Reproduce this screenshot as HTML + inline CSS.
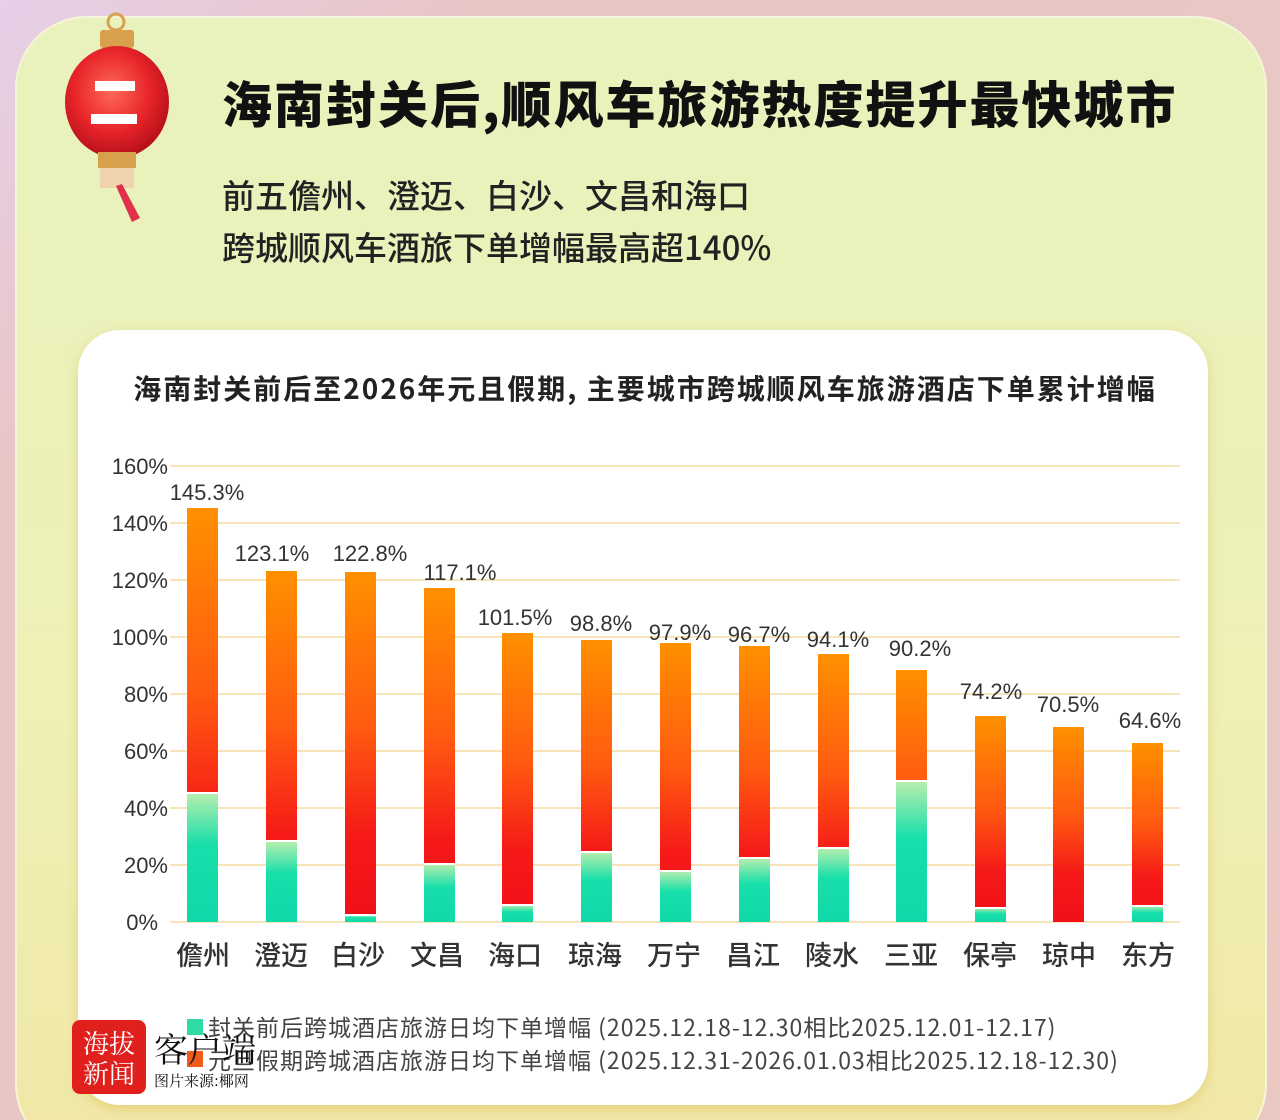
<!DOCTYPE html>
<html><head><meta charset="utf-8"><style>
html,body{margin:0;padding:0;width:1280px;height:1120px;overflow:hidden;background:#e9c8c8;}
body{position:relative;font-family:"Liberation Sans","Noto Sans CJK SC",sans-serif;}
.bg{position:absolute;left:0;top:0;width:1280px;height:1120px;background:linear-gradient(135deg,#e6cfe8 0%,#e8c6c6 20%,#e9c8c4 100%);}
.card{position:absolute;left:15px;top:16px;width:1252px;height:1140px;border-radius:72px;background:linear-gradient(180deg,#e9f2bd 0%,#eef0b6 60%,#f1e7a6 100%);box-shadow:0 0 0 2px #f6f4d8 inset;}
.inner{position:absolute;left:78px;top:330px;width:1130px;height:775px;border-radius:42px;background:#fff;box-shadow:0 4px 10px rgba(220,190,80,.5);}
.t1{position:absolute;left:222px;top:66px;font-size:50px;font-weight:900;color:#111;letter-spacing:2px;white-space:nowrap;font-family:"Noto Sans CJK SC",sans-serif;}
.t2{position:absolute;left:222px;top:168px;font-size:33px;font-weight:500;color:#222;line-height:52px;white-space:nowrap;font-family:"Noto Sans CJK SC",sans-serif;}
</style></head><body>
<div class="bg"></div>
<div class="card"></div>
<svg style="position:absolute;left:60px;top:10px" width="150" height="220">
 <defs><radialGradient id="lg" cx="45%" cy="40%" r="60%"><stop offset="0" stop-color="#ff6a5a"/><stop offset="0.6" stop-color="#e8252a"/><stop offset="1" stop-color="#b8101a"/></radialGradient></defs>
 <circle cx="56" cy="12" r="8" fill="none" stroke="#d9a050" stroke-width="3"/>
 <rect x="40" y="20" width="34" height="18" rx="3" fill="#d8a04a"/>
 <ellipse cx="57" cy="92" rx="52" ry="56" fill="url(#lg)"/>
 <rect x="35" y="71" width="40" height="10" fill="#fff"/>
 <rect x="31" y="104" width="46" height="10" fill="#fff"/>
 <rect x="38" y="142" width="38" height="16" fill="#d8a04a"/>
 <rect x="40" y="158" width="34" height="20" fill="#f2d3b0"/>
 <path d="M56 176 L72 212 L80 208 L62 174Z" fill="#e0304a"/>
</svg>
<div class="t1">海南封关后,顺风车旅游热度提升最快城市</div>
<div class="t2">前五儋州、澄迈、白沙、文昌和海口<br>跨城顺风车酒旅下单增幅最高超140%</div>
<div class="inner"></div>
<svg style="position:absolute;left:0;top:0" width="1280" height="1120" font-family="Liberation Sans, Noto Sans CJK SC, sans-serif">
 <defs>
  <linearGradient id="og" x1="0" y1="0" x2="0" y2="1"><stop offset="0" stop-color="#ff9000"/><stop offset="0.45" stop-color="#ff5a10"/><stop offset="0.75" stop-color="#f51a18"/><stop offset="1" stop-color="#f01018"/></linearGradient>
  <linearGradient id="gg" x1="0" y1="0" x2="0" y2="1"><stop offset="0" stop-color="#b8eeae"/><stop offset="0.4" stop-color="#18dfaa"/><stop offset="1" stop-color="#10d8a8"/></linearGradient>
 </defs>
 <text x="645" y="399" text-anchor="middle" font-size="28" font-weight="bold" fill="#222" letter-spacing="2" font-family="Noto Sans CJK SC, sans-serif">海南封关前后至2026年元且假期, 主要城市跨城顺风车旅游酒店下单累计增幅</text>
 <g stroke="#f7e4b8" stroke-width="2">
  <line x1="170" x2="1180" y1="922" y2="922"/><line x1="170" x2="1180" y1="865" y2="865"/><line x1="170" x2="1180" y1="808" y2="808"/><line x1="170" x2="1180" y1="751" y2="751"/><line x1="170" x2="1180" y1="694" y2="694"/><line x1="170" x2="1180" y1="637" y2="637"/><line x1="170" x2="1180" y1="580" y2="580"/><line x1="170" x2="1180" y1="523" y2="523"/><line x1="170" x2="1180" y1="466" y2="466"/>
 </g>
 <g font-size="22" fill="#333" text-anchor="end">
  <text x="158" y="930">0%</text><text x="168" y="873">20%</text><text x="168" y="816">40%</text><text x="168" y="759">60%</text><text x="168" y="702">80%</text><text x="168" y="645">100%</text><text x="168" y="588">120%</text><text x="168" y="531">140%</text><text x="168" y="474">160%</text>
 </g>
</svg>
<svg style="position:absolute;left:0;top:0" width="1280" height="1120" font-family="Liberation Sans, Noto Sans CJK SC, sans-serif">
<g font-size="22" fill="#333" text-anchor="middle">
<rect x="187" y="508" width="31" height="414" fill="url(#og)"/><rect x="187" y="793" width="31" height="129" fill="url(#gg)"/><rect x="187" y="792" width="31" height="2" fill="#fff"/><text x="207" y="500">145.3%</text>
<rect x="266" y="571" width="31" height="351" fill="url(#og)"/><rect x="266" y="841" width="31" height="81" fill="url(#gg)"/><rect x="266" y="840" width="31" height="2" fill="#fff"/><text x="272" y="561">123.1%</text>
<rect x="345" y="572" width="31" height="350" fill="url(#og)"/><rect x="345" y="915" width="31" height="7" fill="url(#gg)"/><rect x="345" y="914" width="31" height="2" fill="#fff"/><text x="370" y="561">122.8%</text>
<rect x="424" y="588" width="31" height="334" fill="url(#og)"/><rect x="424" y="864" width="31" height="58" fill="url(#gg)"/><rect x="424" y="863" width="31" height="2" fill="#fff"/><text x="460" y="580">117.1%</text>
<rect x="502" y="633" width="31" height="289" fill="url(#og)"/><rect x="502" y="905" width="31" height="17" fill="url(#gg)"/><rect x="502" y="904" width="31" height="2" fill="#fff"/><text x="515" y="625">101.5%</text>
<rect x="581" y="640" width="31" height="282" fill="url(#og)"/><rect x="581" y="852" width="31" height="70" fill="url(#gg)"/><rect x="581" y="851" width="31" height="2" fill="#fff"/><text x="601" y="631">98.8%</text>
<rect x="660" y="643" width="31" height="279" fill="url(#og)"/><rect x="660" y="871" width="31" height="51" fill="url(#gg)"/><rect x="660" y="870" width="31" height="2" fill="#fff"/><text x="680" y="640">97.9%</text>
<rect x="739" y="646" width="31" height="276" fill="url(#og)"/><rect x="739" y="858" width="31" height="64" fill="url(#gg)"/><rect x="739" y="857" width="31" height="2" fill="#fff"/><text x="759" y="642">96.7%</text>
<rect x="818" y="654" width="31" height="268" fill="url(#og)"/><rect x="818" y="848" width="31" height="74" fill="url(#gg)"/><rect x="818" y="847" width="31" height="2" fill="#fff"/><text x="838" y="647">94.1%</text>
<rect x="896" y="670" width="31" height="252" fill="url(#og)"/><rect x="896" y="781" width="31" height="141" fill="url(#gg)"/><rect x="896" y="780" width="31" height="2" fill="#fff"/><text x="920" y="656">90.2%</text>
<rect x="975" y="716" width="31" height="206" fill="url(#og)"/><rect x="975" y="908" width="31" height="14" fill="url(#gg)"/><rect x="975" y="907" width="31" height="2" fill="#fff"/><text x="991" y="699">74.2%</text>
<rect x="1053" y="727" width="31" height="195" fill="url(#og)"/><text x="1068" y="712">70.5%</text>
<rect x="1132" y="743" width="31" height="179" fill="url(#og)"/><rect x="1132" y="906" width="31" height="16" fill="url(#gg)"/><rect x="1132" y="905" width="31" height="2" fill="#fff"/><text x="1150" y="728">64.6%</text>
</g>
<g font-size="27" fill="#333" text-anchor="middle" font-family="Noto Sans CJK SC, sans-serif" font-weight="500">
<text x="203" y="965">儋州</text><text x="281" y="965">澄迈</text><text x="358" y="965">白沙</text><text x="437" y="965">文昌</text><text x="515" y="965">海口</text><text x="595" y="965">琼海</text><text x="674" y="965">万宁</text><text x="753" y="965">昌江</text><text x="832" y="965">陵水</text><text x="911" y="965">三亚</text><text x="990" y="965">保亭</text><text x="1069" y="965">琼中</text><text x="1148" y="965">东方</text>
</g>
<rect x="187" y="1019" width="16" height="16" fill="#2fdca8"/>
<rect x="187" y="1051" width="16" height="16" fill="#f05a1a"/>
<g font-size="23" fill="#444" letter-spacing="1" font-family="Noto Sans CJK SC, sans-serif">
<text x="208" y="1036">封关前后跨城酒店旅游日均下单增幅 (2025.12.18-12.30相比2025.12.01-12.17)</text>
<text x="208" y="1069">元旦假期跨城酒店旅游日均下单增幅 (2025.12.31-2026.01.03相比2025.12.18-12.30)</text>
</g>
<rect x="72" y="1020" width="74" height="74" rx="8" fill="#e0201c"/>
<text x="109" y="1053" text-anchor="middle" font-size="26" fill="#fff" font-family="Noto Serif CJK SC, serif">海拔</text>
<text x="109" y="1083" text-anchor="middle" font-size="26" fill="#fff" font-family="Noto Serif CJK SC, serif">新闻</text>
<text x="154" y="1062" font-size="34" fill="#111" font-family="Noto Serif CJK SC, serif">客户端</text>
<text x="154" y="1086" font-size="15" fill="#111" font-family="Noto Serif CJK SC, serif">图片来源:椰网</text>
</svg>
</body></html>
